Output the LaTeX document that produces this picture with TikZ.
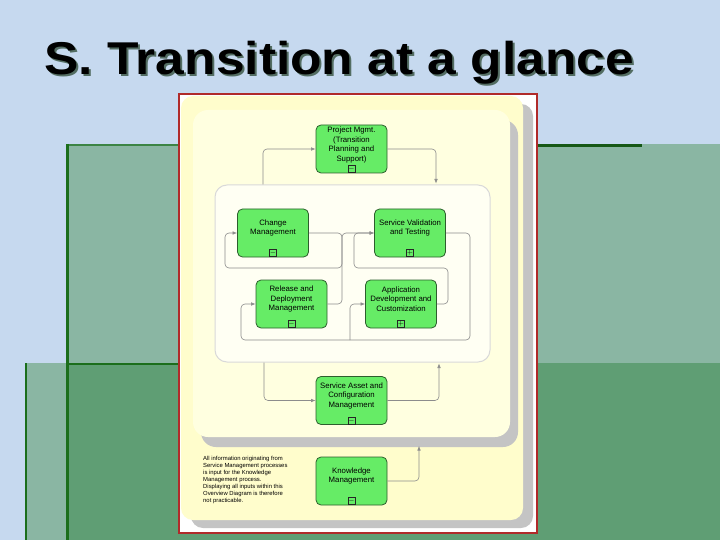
\documentclass[tikz,border=0pt]{standalone}
\usepackage{fontspec}
\setmainfont{Liberation Sans}
\usetikzlibrary{arrows.meta}
\definecolor{sky}{HTML}{C6D9EF}
\definecolor{sage}{HTML}{8AB6A3}
\definecolor{moss}{HTML}{5F9E74}
\definecolor{pine}{HTML}{1B6E1B}
\definecolor{frame}{HTML}{B02A2A}
\definecolor{cream}{HTML}{FFFDCC}
\definecolor{paleyel}{HTML}{FFFFE0}
\definecolor{ivory}{HTML}{FFFFF3}
\definecolor{procfill}{HTML}{66EC66}
\definecolor{procline}{HTML}{2D5E2D}
\tikzset{
  proc/.style={rectangle, rounded corners=5pt, draw=procline, fill=procfill, line width=0.8pt,
               minimum width=71pt, minimum height=48pt, inner sep=0pt},          % process box
  ptext/.style={align=center, font=\fontsize{7.8}{9.5}\selectfont, inner sep=0pt},
  tog/.style={draw=black!85, fill=procfill, line width=0.6pt, minimum size=7pt,
              inner sep=0pt, font=\fontsize{7}{7}\selectfont},                   % +/- marker
  fl/.style={draw=black!45, line width=0.6pt, rounded corners=4pt,
             -{Latex[length=4.5pt,width=3.6pt]}},                                % flow
  ttl/.style={font=\fontsize{46}{46}\selectfont\bfseries, xscale=1.12, inner sep=0pt, anchor=base west},
}

\begin{document}
\begin{tikzpicture}[x=1pt,y=-1pt]
  \useasboundingbox (0,0) rectangle (720,540);
  % slide background
  \fill[sky] (0,0) rectangle (720,540);
  \fill[sage] (67,144) rectangle (720,363);
  \fill[moss] (67,363) rectangle (720,540);
  \fill[sage] (26,363) rectangle (67,540);
  \draw[pine!70!sage, line width=2pt] (67,145) -- (180,145);
  \draw[pine, line width=2pt] (67,364) -- (180,364);
  \draw[pine!80!black, line width=3.5pt] (537,145.5) -- (642,145.5);
  \draw[pine, line width=3pt] (67,144) -- (67,540);
  \draw[pine, line width=2.5pt] (26,363) -- (26,540);
  % title
  \node[ttl, text=sage!60!black] (title-sh) at (46,77) {S. Transition at a glance};
  \node[ttl] (title) at (44,75) {S. Transition at a glance};
  % document panel
  \filldraw[fill=white, draw=frame, line width=1.6pt] (179,94) rectangle (537,533);
  \fill[black!23, rounded corners=12pt] (191,104) rectangle (533,528);
  \fill[cream, rounded corners=12pt] (181,96) rectangle (523,520);
  \fill[black!23, rounded corners=15pt] (201,120) rectangle (518,447);
  \node[fill=paleyel, rounded corners=15pt, minimum width=317pt, minimum height=327pt,
        inner sep=0pt] (stage) at (351.5,273.5) {};
  \node[fill=ivory, draw=black!15, line width=1pt, rounded corners=12pt, minimum width=275pt,
        minimum height=177pt, inner sep=0pt] (phase) at (352.5,273.5) {};
  % processes
  \node[proc] (pm)   at (351.5,149)   {};
  \node[proc] (cm)   at (273,233)     {};
  \node[proc] (svt)  at (410,233)     {};
  \node[proc] (rdm)  at (291.5,304)   {};
  \node[proc] (adc)  at (401,304)     {};
  \node[proc] (sacm) at (351.5,400.5) {};
  \node[proc] (km)   at (351.5,481)   {};
  \node[ptext] (pm-t)   at ([yshift=4pt]pm.center)   {Project Mgmt.\\(Transition\\Planning and\\Support)};
  \node[ptext] (cm-t)   at ([yshift=5pt]cm.center)   {Change\\Management};
  \node[ptext] (svt-t)  at ([yshift=5pt]svt.center)  {Service Validation\\and Testing};
  \node[ptext] (rdm-t)  at ([yshift=5pt]rdm.center)  {Release and\\Deployment\\Management};
  \node[ptext] (adc-t)  at ([yshift=5pt]adc.center)  {Application\\Development and\\Customization};
  \node[ptext] (sacm-t) at ([yshift=5pt]sacm.center) {Service Asset and\\Configuration\\Management};
  \node[ptext] (km-t)   at ([yshift=5pt]km.center)   {Knowledge\\Management};
  \foreach \p/\s in {pm/-,cm/-,svt/+,rdm/-,adc/+,sacm/-,km/-}
    \node[tog] (\p-m) at ([yshift=4.5pt]\p.south) {$\s$};
  % flows outside the phase box
  \draw[fl] (phase.north -| 263,0) |- (pm.west);
  \draw[fl] (pm.east) -| ([yshift=1pt]phase.north -| 436,0);
  \draw[fl] (phase.south -| 264,0) |- (sacm.west);
  \draw[fl] (sacm.east) -| ([yshift=-1pt]phase.south -| 439,0);
  \coordinate (km-in) at (419,446);
  \draw[fl] (km.east) -| (km-in);
  % flows inside the phase box
  \draw[fl] (cm.east) -- (342,233) -- (342,268) -- (225,268) -- (225,233) -- (cm.west);
  \draw[fl] (rdm.east) -- (342,304) -- (342,233) -- (svt.west);
  \draw[fl] (adc.east) -- (448,304) -- (448,268) -- (354,268) -- (354,233) -- (svt.west);
  \draw[fl] (svt.east) -- (470,233) -- (470,340) -- (241,340) -- (241,304) -- (rdm.west);
  \draw[fl] (350,340) -- (350,304) -- (adc.west);
  % note
  \node[anchor=north west, align=left, inner sep=0pt, font=\fontsize{5.9}{7}\selectfont] (note) at (203,456)
    {All information originating from\\Service Management processes\\is input for the Knowledge\\Management process.\\Displaying all inputs within this\\Overview Diagram is therefore\\not practicable.};
\end{tikzpicture}
\end{document}
